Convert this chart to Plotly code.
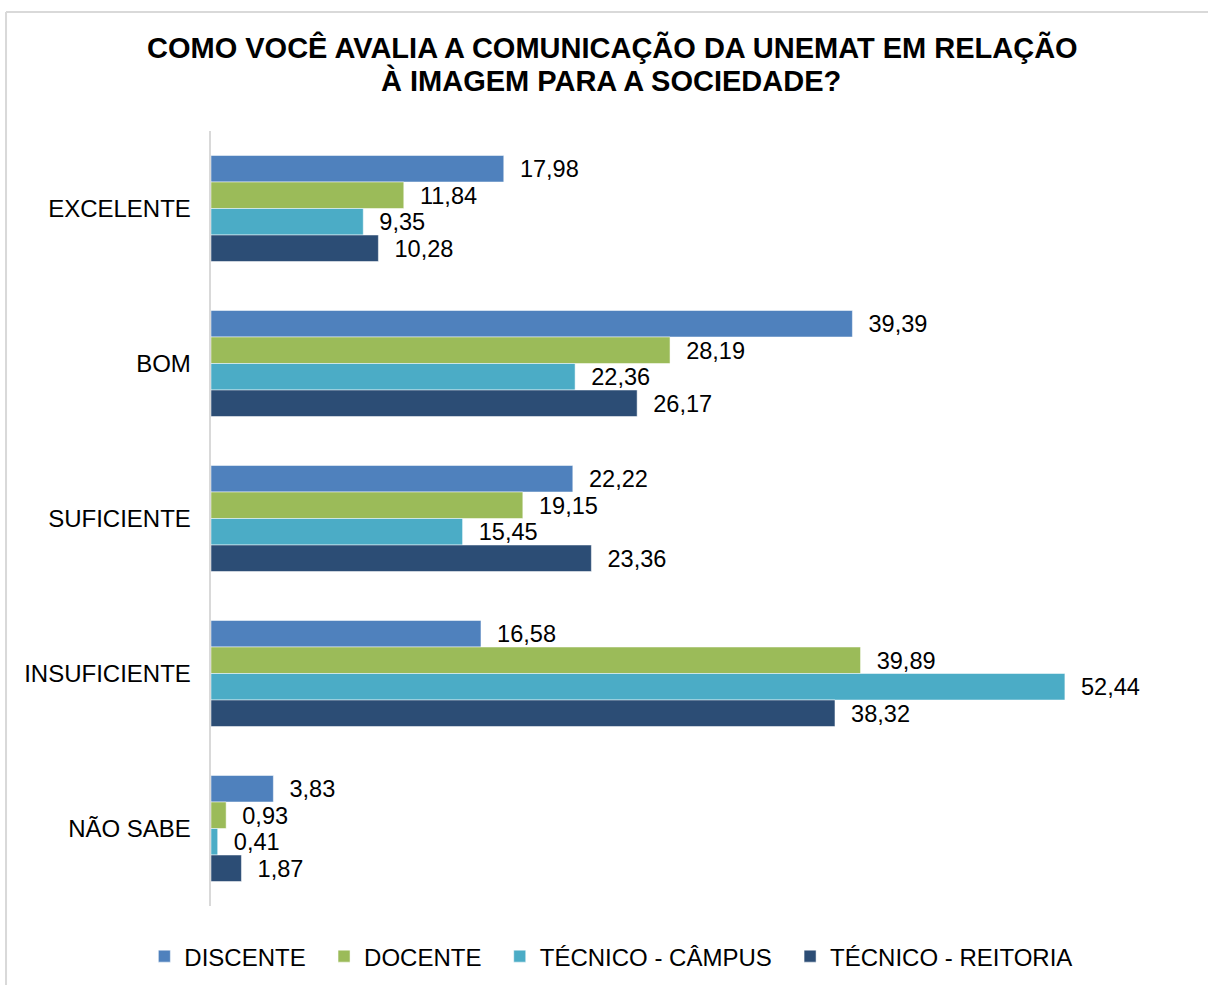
import plotly.graph_objects as go

categorias = ["EXCELENTE", "BOM", "SUFICIENTE", "INSUFICIENTE", "NÃO SABE"]
discente = [17.98, 39.39, 22.22, 16.58, 3.83]
docente = [11.84, 28.19, 19.15, 39.89, 0.93]
tecnico_campus = [9.35, 22.36, 15.45, 52.44, 0.41]
tecnico_reitoria = [10.28, 26.17, 23.36, 38.32, 1.87]

titulo_linha1 = "COMO VOCÊ AVALIA A COMUNICAÇÃO DA UNEMAT EM RELAÇÃO"
titulo_linha2 = "À IMAGEM PARA A SOCIEDADE?"

series = [
    ("DISCENTE", discente, "#4F81BD"),
    ("DOCENTE", docente, "#9BBB59"),
    ("TÉCNICO - CÂMPUS", tecnico_campus, "#4BACC6"),
    ("TÉCNICO - REITORIA", tecnico_reitoria, "#2C4D75"),
]

fig = go.Figure()
for nome, valores, cor in series:
    fig.add_trace(go.Bar(
        y=categorias,
        x=valores,
        name=nome + "\u00a0\u00a0",
        orientation="h",
        marker=dict(color=cor, line=dict(color="white", width=0.5)),
        texttemplate="\u00a0\u00a0%{x:.2f}",
        textposition="outside",
        textfont=dict(size=24, color="#000000"),
        cliponaxis=False,
    ))

# moldura cinza do gráfico (topo e lado esquerdo)
fig.add_shape(type="line", xref="paper", yref="paper",
              x0=-0.2098, x1=1.03, y0=1.1535, y1=1.1535,
              line=dict(color="#D9D9D9", width=2))
fig.add_shape(type="line", xref="paper", yref="paper",
              x0=-0.2098, x1=-0.2098, y0=1.1535, y1=-0.12,
              line=dict(color="#D9D9D9", width=2))

# título em duas linhas
fig.add_annotation(text="<b>" + titulo_linha1 + "</b>", xref="paper", yref="paper",
                   x=0.411, y=1.1071, xanchor="center", yanchor="middle",
                   showarrow=False, font=dict(size=29, color="#000000"))
fig.add_annotation(text="<b>" + titulo_linha2 + "</b>", xref="paper", yref="paper",
                   x=0.409, y=1.0658, xanchor="center", yanchor="middle",
                   showarrow=False, font=dict(size=29, color="#000000"))

fig.update_layout(
    width=1208,
    height=985,
    paper_bgcolor="white",
    plot_bgcolor="white",
    separators=",.",
    barmode="group",
    bargap=0.316,
    bargroupgap=0,
    margin=dict(l=211, r=20, t=131, b=79),
    font=dict(family="Liberation Sans, Arial, sans-serif", color="#000000"),
    legend=dict(
        orientation="h",
        x=0.1195, xref="container", xanchor="left",
        y=0.0289, yref="container", yanchor="middle",
        font=dict(size=24),
        itemwidth=30,
    ),
    showlegend=True,
)

fig.update_xaxes(range=[0, 60], showgrid=False, showticklabels=False,
                 zeroline=False, showline=False, ticks="")
fig.update_yaxes(autorange="reversed", showgrid=False, showline=True,
                 linecolor="#D9D9D9", linewidth=2, ticks="",
                 tickfont=dict(size=24), ticksuffix="  ")

fig.write_html("out.html", config={"displayModeBar": False},
               post_script="document.body.style.margin='0';")
